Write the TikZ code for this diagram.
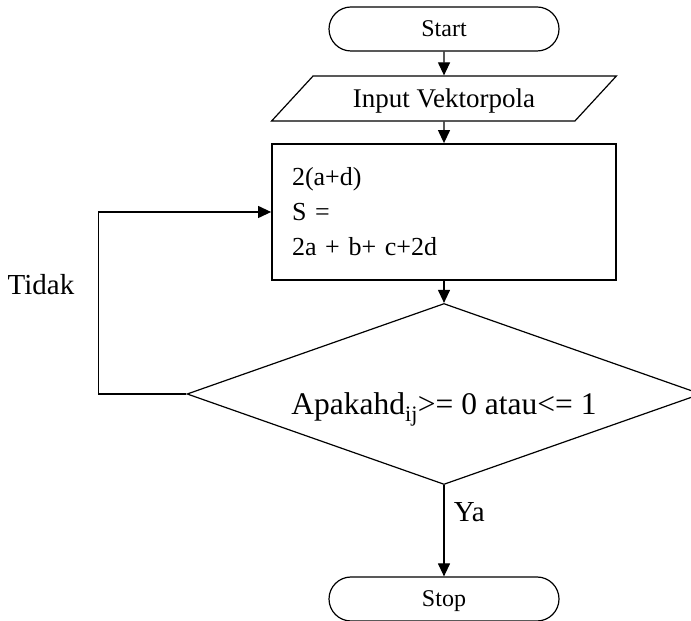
\documentclass[tikz,border=0pt]{standalone}
\usepackage{fontspec}
\setmainfont{Liberation Serif}
\usetikzlibrary{arrows.meta,shapes.geometric,shapes.misc}

\begin{document}
\begin{tikzpicture}[x=1pt, y=1pt, line width=1.2pt,
    >={Triangle[length=13pt,width=12pt]},
    terminal/.style={rounded rectangle, draw, minimum width=230pt, minimum height=44pt,
        inner sep=0pt, text depth=0pt, font=\fontsize{24}{28}\selectfont},
    inout/.style={trapezium, trapezium left angle=33, trapezium right angle=147,
        trapezium stretches=true, draw, minimum width=345pt, minimum height=45pt,
        inner sep=0pt, text depth=0pt, font=\fontsize{27}{30}\selectfont},
    process/.style={rectangle, draw, line width=1.8pt, minimum height=136pt,
        text width=304pt, inner xsep=20pt, align=left, font=\fontsize{26}{35}\selectfont},
    decision/.style={diamond, draw, aspect=2.8, minimum width=514pt, minimum height=181pt,
        inner sep=0pt, font=\fontsize{31.5}{36}\selectfont},
    lbl/.style={font=\fontsize{29}{32}\selectfont}]
    \useasboundingbox (0,0) rectangle (691,621);

    % flow
    \node[terminal] (start) at (444,592) {Start};
    \node[inout] (input) at (444,522.5) {Input Vektorpola};
    \node[process] (box) at (444,409) {2(a+d)\\S =\\2a + b+ c+2d};
    \node[decision] (dia) at (444,227)
        {\raisebox{-21pt}[0pt][0pt]{Apakahd\textsubscript{ij}>= 0 atau<= 1}};
    \node[terminal] (stop) at (444,22) {Stop};

    % arrows
    \draw[->] (start) -- (input);
    \draw[->] (input) -- (box);
    \draw[->] (box) -- (dia);
    \draw[->] (dia) -- node[lbl, pos=0.3, right, xshift=6pt] (ya) {Ya} (stop);

    % loop back
    \draw[->] (dia.west) -- ++(-88,0) |- (box.west);
    \node[lbl] (tidak) at (41,336) {Tidak};
\end{tikzpicture}
\end{document}
